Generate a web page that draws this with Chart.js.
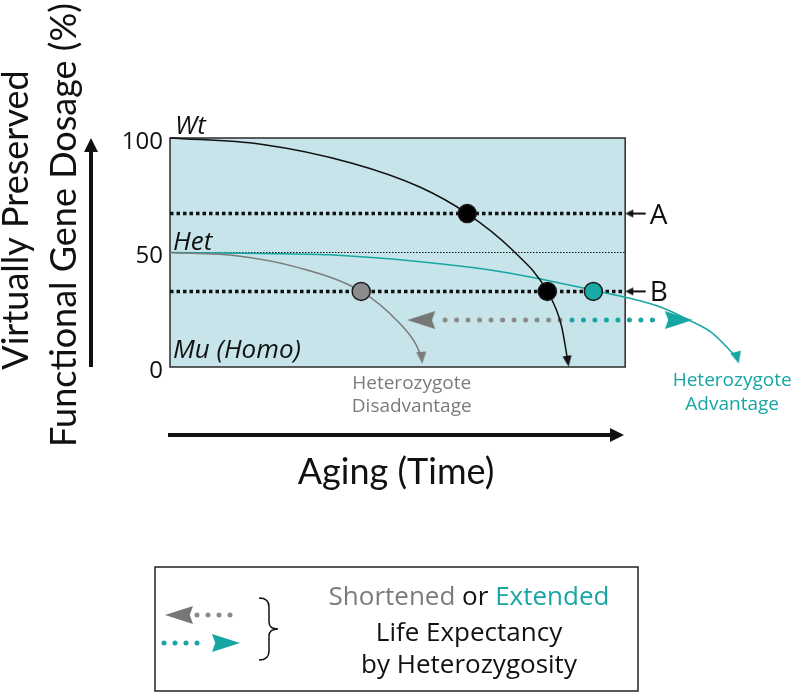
<!DOCTYPE html>
<html>
<head>
<meta charset="utf-8">
<script src="https://cdn.jsdelivr.net/npm/chart.js@4.4.1/dist/chart.umd.min.js"></script>
<style>
  html, body { margin: 0; padding: 0; background: #fff; }
  canvas { display: block; }
</style>
</head>
<body>
<canvas id="chart" width="800" height="694"></canvas>
<script>
// time runs 0..100 across the shaded box, dosage in %
const yTicks = [0, 50, 100];

const wtTime = [0, 20, 40, 55, 65.3, 75, 82.9, 86, 87.4];
const wtDosage = [100, 97.3, 89, 78.5, 67, 51.5, 33, 18, 2.5];

const hetLossTime = [0, 15, 28, 42, 50, 54, 55.3];
const hetLossDosage = [50, 48.5, 43.5, 33, 20, 10, 4];

const hetGainTime = [0, 20, 35, 55, 70, 80, 93, 100, 108, 114, 119, 124.6];
const hetGainDosage = [50, 49.6, 49, 46, 42.5, 39, 33.5, 30.5, 26, 20.5, 15, 4];

const hetLevel = 50;
const levelA = 67;
const levelB = 33;

const markTime = [65.3, 42, 82.9, 93];
const markDosage = [67, 33, 33, 33];
const markKind = ['wt', 'loss', 'wt', 'gain'];

const shiftDosage = 20.5;
const shortenedTime = [85.7, 60.4];
const extendedTime = [88.3, 106];

const pointerTime = [104.5, 101.5];

const headTime = [wtTime.at(-1), hetLossTime.at(-1), hetGainTime.at(-1), 55.2, 111.8, 100.9, 100.9];
const headDosage = [wtDosage.at(-1), hetLossDosage.at(-1), hetGainDosage.at(-1), shiftDosage, shiftDosage, levelA, levelB];
const headKind = ['wt', 'loss', 'gain', 'lossBig', 'gainBig', 'ptr', 'ptr'];
const headRotation = [172, 176, 165, 270, 90, 270, 270];

const ink = '#111111';
const gray = '#7b7b7b';
const dotGray = '#8a8a8a';
const teal = '#17a6a3';
const boxFill = '#c6e4e9';
const labelFont = '"Open Sans", Lato, sans-serif';
const titleFont = 'Lato, "Open Sans", sans-serif';

function makeHead(color, len, wid, notch) {
  const c = document.createElement('canvas');
  const s = Math.ceil(Math.max(len, wid)) + 2;
  c.width = s; c.height = s;
  const g = c.getContext('2d');
  g.fillStyle = color;
  g.beginPath();
  g.moveTo(s / 2, (s - len) / 2);
  g.lineTo(s / 2 + wid / 2, (s + len) / 2);
  g.lineTo(s / 2, (s + len) / 2 - len * notch);
  g.lineTo(s / 2 - wid / 2, (s + len) / 2);
  g.closePath();
  g.fill();
  return c;
}

const heads = {
  wt: makeHead(ink, 11, 9, 0),
  loss: makeHead(gray, 12, 10, 0),
  gain: makeHead(teal, 12, 11, 0),
  lossBig: makeHead('#777777', 28, 18, 0.12),
  gainBig: makeHead(teal, 28, 18, 0.12),
  ptr: makeHead(ink, 8, 8, 0)
};
const markFill = { wt: '#000000', loss: '#8c8c8c', gain: '#1aa9a5' };

const pts = (xs, ys) => xs.map((t, i) => ({ x: t, y: Array.isArray(ys) ? ys[i] : ys }));

function drawHead(ctx, img, px, py, rot) {
  ctx.save();
  ctx.translate(px, py);
  ctx.rotate(rot * Math.PI / 180);
  ctx.drawImage(img, -img.width / 2, -img.height / 2);
  ctx.restore();
}

const decor = {
  id: 'decor',
  beforeDatasetsDraw(chart) {
    const { ctx, scales: { x, y } } = chart;
    const l = x.getPixelForValue(0), r = x.getPixelForValue(100);
    const t = y.getPixelForValue(100), b = y.getPixelForValue(0);
    ctx.save();
    ctx.fillStyle = boxFill;
    ctx.fillRect(l, t, r - l, b - t);
    ctx.strokeStyle = '#2b2b2b';
    ctx.lineWidth = 1.5;
    ctx.strokeRect(l, t, r - l, b - t);
    ctx.restore();
  },
  afterDatasetsDraw(chart) {
    const { ctx, scales: { x, y } } = chart;
    const x0 = x.getPixelForValue(0);
    ctx.save();
    ctx.fillStyle = ink;

    // value ticks
    ctx.font = '24px ' + labelFont;
    ctx.textAlign = 'right';
    ctx.textBaseline = 'middle';
    yTicks.forEach(v => ctx.fillText(String(v), x0 - 7, y.getPixelForValue(v) + 4));

    // genotype names
    ctx.font = 'italic 26px ' + labelFont;
    ctx.textAlign = 'left';
    ctx.textBaseline = 'alphabetic';
    ctx.fillText('Wt', x0 + 5, y.getPixelForValue(100) - 4);
    ctx.fillText('Het', x0 + 3, y.getPixelForValue(hetLevel) - 3);
    ctx.fillText('Mu (Homo)', x0 + 3, y.getPixelForValue(0) - 9);

    // A / B markers
    ctx.font = '28px ' + labelFont;
    ctx.textBaseline = 'middle';
    ctx.fillText('A', x.getPixelForValue(pointerTime[0]) + 4, y.getPixelForValue(levelA) + 2);
    ctx.fillText('B', x.getPixelForValue(pointerTime[0]) + 4, y.getPixelForValue(levelB) + 2);

    // outcome labels
    ctx.font = '19px ' + labelFont;
    ctx.textAlign = 'center';
    ctx.textBaseline = 'alphabetic';
    ctx.fillStyle = gray;
    const gx = x.getPixelForValue(hetLossTime.at(-1)) - 10;
    ctx.fillText('Heterozygote', gx, 389);
    ctx.fillText('Disadvantage', gx, 412);
    ctx.fillStyle = teal;
    const tx = x.getPixelForValue(hetGainTime.at(-1)) - 5;
    ctx.fillText('Heterozygote', tx, 386);
    ctx.fillText('Advantage', tx, 410);

    // axis arrows
    ctx.strokeStyle = ink;
    ctx.fillStyle = ink;
    ctx.lineWidth = 4;
    ctx.beginPath();
    ctx.moveTo(91, 367); ctx.lineTo(91, 150);
    ctx.moveTo(168, 435); ctx.lineTo(612, 435);
    ctx.stroke();
    ctx.beginPath();
    ctx.moveTo(91, 138); ctx.lineTo(98, 152); ctx.lineTo(84, 152); ctx.closePath();
    ctx.moveTo(624, 435); ctx.lineTo(610, 428); ctx.lineTo(610, 442); ctx.closePath();
    ctx.fill();

    // axis titles
    ctx.font = '36px ' + titleFont;
    ctx.textAlign = 'center';
    ctx.fillText('Aging (Time)', 396, 484);
    ctx.save();
    ctx.translate(28, 220);
    ctx.rotate(-Math.PI / 2);
    ctx.fillText('Virtually Preserved', 0, 0);
    ctx.restore();
    ctx.save();
    ctx.translate(76, 225);
    ctx.rotate(-Math.PI / 2);
    ctx.fillText('Functional Gene Dosage (%)', 0, 0);
    ctx.restore();

    // legend box
    ctx.lineWidth = 1.5;
    ctx.strokeStyle = '#222';
    ctx.strokeRect(155, 567, 483, 124);
    ctx.lineCap = 'round';
    ctx.lineWidth = 5;
    ctx.setLineDash([0, 11]);
    ctx.strokeStyle = dotGray;
    ctx.beginPath(); ctx.moveTo(197, 615); ctx.lineTo(241, 615); ctx.stroke();
    ctx.strokeStyle = teal;
    ctx.beginPath(); ctx.moveTo(164, 643); ctx.lineTo(208, 643); ctx.stroke();
    ctx.setLineDash([]);
    drawHead(ctx, heads.lossBig, 179, 615, 270);
    drawHead(ctx, heads.gainBig, 226, 643, 90);
    // brace
    ctx.lineWidth = 1.5;
    ctx.lineCap = 'butt';
    ctx.strokeStyle = ink;
    ctx.beginPath();
    ctx.moveTo(259, 598);
    ctx.quadraticCurveTo(269, 598, 269, 607);
    ctx.lineTo(269, 622);
    ctx.quadraticCurveTo(269, 629, 278, 629);
    ctx.quadraticCurveTo(269, 629, 269, 636);
    ctx.lineTo(269, 651);
    ctx.quadraticCurveTo(269, 660, 259, 660);
    ctx.stroke();
    // legend text
    ctx.font = '26px ' + labelFont;
    ctx.textAlign = 'left';
    const w1 = ctx.measureText('Shortened ').width;
    const w2 = ctx.measureText('or ').width;
    const w3 = ctx.measureText('Extended').width;
    let lx = 469 - (w1 + w2 + w3) / 2;
    ctx.fillStyle = gray; ctx.fillText('Shortened ', lx, 605); lx += w1;
    ctx.fillStyle = ink; ctx.fillText('or ', lx, 605); lx += w2;
    ctx.fillStyle = teal; ctx.fillText('Extended', lx, 605);
    ctx.fillStyle = ink;
    ctx.textAlign = 'center';
    ctx.fillText('Life Expectancy', 469, 641);
    ctx.fillText('by Heterozygosity', 469, 673);
    ctx.restore();
  }
};

const curve = (xs, ys, color) => ({
  data: pts(xs, ys), borderColor: color, borderWidth: 1.5,
  cubicInterpolationMode: 'monotone', pointRadius: 0, order: 2, clip: false
});
const level = (xs, v, width, dash) => ({
  data: pts(xs, v), borderColor: ink, borderWidth: width, borderDash: dash,
  pointRadius: 0, order: 3, clip: false
});
const dots = (xs, color) => ({
  data: pts(xs, shiftDosage), borderColor: color, borderWidth: 5,
  borderDash: [0, 11.5], borderCapStyle: 'round', pointRadius: 0, order: 3, clip: false
});

new Chart(document.getElementById('chart'), {
  type: 'line',
  data: {
    datasets: [
      {
        data: pts(markTime, markDosage), showLine: false, pointRadius: 9,
        pointBackgroundColor: markKind.map(k => markFill[k]),
        pointBorderColor: '#1a1a1a', pointBorderWidth: 1.5, order: 0, clip: false
      },
      {
        data: pts(headTime, headDosage), showLine: false, pointRadius: 6,
        pointStyle: headKind.map(k => heads[k]), pointRotation: headRotation,
        order: 1, clip: false
      },
      curve(wtTime, wtDosage, ink),
      curve(hetLossTime, hetLossDosage, gray),
      curve(hetGainTime, hetGainDosage, teal),
      level([0, 100], levelA, 3.5, [3.5, 3]),
      level([0, 100], levelB, 3.5, [3.5, 3]),
      level([0, 100], hetLevel, 1, [1.5, 1.5]),
      level(pointerTime, levelA, 2, []),
      level(pointerTime, levelB, 2, []),
      dots(shortenedTime, dotGray),
      dots(extendedTime, teal)
    ]
  },
  options: {
    responsive: false,
    devicePixelRatio: 1,
    animation: false,
    events: [],
    layout: { padding: { left: 170, right: 0, top: 138, bottom: 327 } },
    scales: {
      x: { type: 'linear', min: 0, max: 136.1, display: false },
      y: { type: 'linear', min: 0, max: 100, display: false }
    },
    plugins: { legend: { display: false }, tooltip: { enabled: false } }
  },
  plugins: [decor]
});
</script>
</body>
</html>
